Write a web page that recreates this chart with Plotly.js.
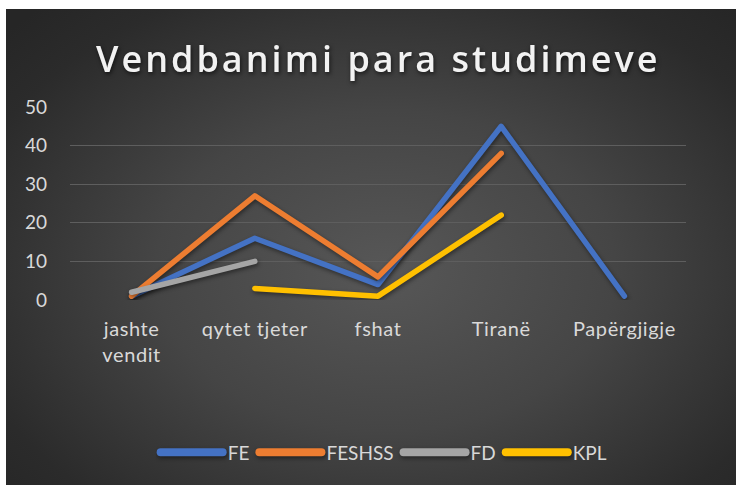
<!DOCTYPE html>
<html>
<head>
<meta charset="utf-8">
<script src="https://cdn.plot.ly/plotly-3.0.1.min.js"></script>
<style>
  html, body { margin: 0; padding: 0; background: #ffffff; width: 736px; height: 485px; overflow: hidden; }
  #chart {
    position: absolute; left: 6px; top: 9px; width: 730px; height: 476px;
    background: radial-gradient(ellipse 70% 75% at 52% 55%, #575757 0%, #454545 45%, #2b2b2b 85%, #262626 100%);
  }
  #chart .js-line { stroke-linecap: round !important; stroke-linejoin: round !important; filter: drop-shadow(1px 2px 2px rgba(0,0,0,0.45)); }
  #chart .legendlines path { stroke-linecap: round !important; stroke-width: 8px !important; }
  #chart .gtitle { letter-spacing: 3px; filter: drop-shadow(1px 2px 2px rgba(0,0,0,0.6)); }
  #chart .xtick text { letter-spacing: 0.6px; }
</style>
</head>
<body>
<div id="chart"></div>
<script>
const categories = ["jashte vendit", "qytet tjeter", "fshat", "Tiranë", "Papërgjigje"];
const tickLabels = ["jashte<br>vendit", "qytet tjeter", "fshat", "Tiranë", "Papërgjigje"];
const seriesNames = ["FE", "FESHSS", "FD", "KPL"];
const FE = [1, 16, 4, 45, 1];
const FESHSS = [1, 27, 6, 38, null];
const FD = [2, 10, null, null, null];
const KPL = [null, 3, 1, 22, null];
const colors = ["#4472C4", "#ED7D31", "#A5A5A5", "#FFC000"];

const allValues = [FE, FESHSS, FD, KPL];
const traces = allValues.map((vals, i) => ({
  type: "scatter",
  mode: "lines",
  name: seriesNames[i],
  x: categories,
  y: vals,
  connectgaps: false,
  line: { color: colors[i], width: 5.5 },
  hoverinfo: "x+y+name"
}));

const layout = {
  width: 730, height: 476,
  paper_bgcolor: "rgba(0,0,0,0)",
  plot_bgcolor: "rgba(0,0,0,0)",
  margin: { l: 64, r: 50, t: 98, b: 185 },
  title: {
    text: "Vendbanimi para studimeve",
    font: { family: "Open Sans, sans-serif", size: 36, color: "#f2f2f2", weight: 600 },
    x: 0.51, xanchor: "center", y: 0.895, yanchor: "middle"
  },
  xaxis: {
    type: "category",
    range: [-0.5, 4.5],
    tickvals: categories,
    ticktext: tickLabels,
    showgrid: false,
    zeroline: false,
    showline: false,
    ticks: "",
    ticklabelstandoff: 15,
    tickfont: { family: "Lato, sans-serif", size: 20, color: "#d9d9d9" }
  },
  yaxis: {
    range: [0, 50],
    dtick: 10,
    showgrid: true,
    gridcolor: "#5e5e5e",
    gridwidth: 1,
    zeroline: false,
    showline: false,
    ticks: "",
    ticklabelstandoff: 22,
    tickfont: { family: "Lato, sans-serif", size: 19, color: "#d9d9d9" }
  },
  showlegend: true,
  legend: {
    orientation: "h",
    x: 0.51, xanchor: "center",
    y: -0.79, yanchor: "middle",
    bgcolor: "rgba(0,0,0,0)",
    itemwidth: 62,
    font: { family: "Lato, sans-serif", size: 19, color: "#d9d9d9" }
  }
};

Plotly.newPlot("chart", traces, layout, { displayModeBar: false, staticPlot: true });
</script>
</body>
</html>
